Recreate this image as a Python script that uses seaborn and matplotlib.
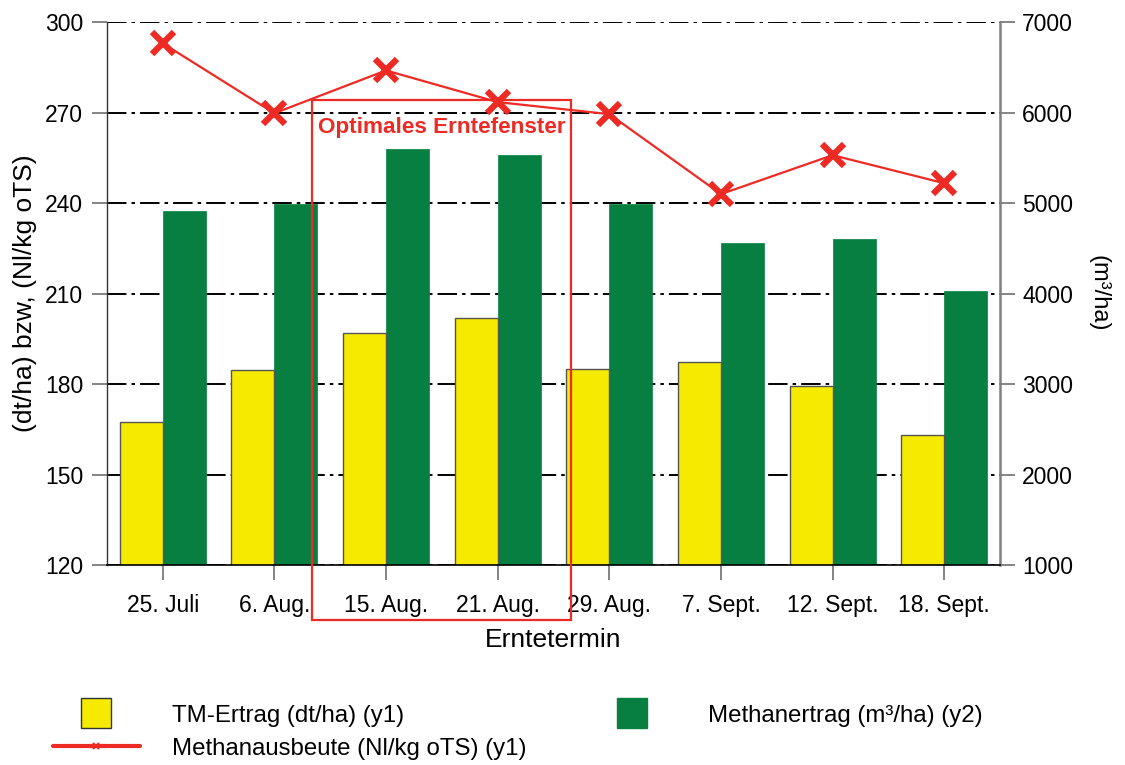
import matplotlib
matplotlib.use('Agg')
import matplotlib.pyplot as plt
import pandas as pd
import seaborn as sns
from matplotlib.lines import Line2D
from matplotlib.patches import Rectangle

# Daten
termine = ['25. Juli', '6. Aug.', '15. Aug.', '21. Aug.', '29. Aug.',
           '7. Sept.', '12. Sept.', '18. Sept.']
tm_ertrag = [167.4, 184.6, 196.9, 201.9, 185.0, 187.3, 179.3, 163.1]        # dt/ha (y1)
methanertrag = [4910, 4990, 5600, 5530, 4990, 4560, 4600, 4030]            # m³/ha (y2)
methanausbeute = [293.0, 269.8, 284.0, 273.5, 269.5, 243.0, 255.9, 246.6]  # Nl/kg oTS (y1)

y1_ticks = [120, 150, 180, 210, 240, 270, 300]
y2_ticks = [1000, 2000, 3000, 4000, 5000, 6000, 7000]

GELB = '#F5EA00'
GRUEN = '#067F40'
ROT = '#EE2A24'

sns.set_style('white')
plt.rcParams['font.family'] = ['Liberation Sans', 'DejaVu Sans']
plt.rcParams['text.color'] = 'black'
plt.rcParams['axes.labelcolor'] = 'black'
plt.rcParams['xtick.color'] = 'black'
plt.rcParams['ytick.color'] = 'black'

df = pd.DataFrame({
    'termin': termine * 2,
    'serie': ['TM'] * len(termine) + ['Methan'] * len(termine),
    'wert': tm_ertrag + methanertrag,
})
hue_order = ['TM', 'Methan']

fig = plt.figure(figsize=(11.25, 7.65), dpi=100)
ax2 = fig.add_axes([0.095, 0.2614, 0.794, 0.7096])
ax = ax2.twinx()   # twinx blendet die x-Achse von ax aus -> Beschriftung auf ax2
ax.set_zorder(ax2.get_zorder() + 1)
ax.patch.set_visible(False)

# Methanertrag auf der rechten Achse (hinten)
sns.barplot(data=df[df['serie'] == 'Methan'], x='termin', y='wert', hue='serie',
            hue_order=hue_order, order=termine, palette=[GELB, GRUEN],
            width=0.77, dodge=True, errorbar=None, saturation=1, legend=False,
            edgecolor=GRUEN, linewidth=0.5, ax=ax2)

# TM-Ertrag auf der linken Achse
sns.barplot(data=df[df['serie'] == 'TM'], x='termin', y='wert', hue='serie',
            hue_order=hue_order, order=termine, palette=[GELB, GRUEN],
            width=0.77, dodge=True, errorbar=None, saturation=1, legend=False,
            edgecolor='#555555', linewidth=1.0, ax=ax)

sns.lineplot(x=range(len(termine)), y=methanausbeute, color=ROT, linewidth=1.6,
             marker='x', markersize=16, markeredgewidth=4.5, markeredgecolor=ROT,
             ax=ax)

# linke Skala liegt auf ax, rechte auf ax2
ax.yaxis.tick_left()
ax.yaxis.set_label_position('left')
ax2.yaxis.tick_right()
ax2.yaxis.set_label_position('right')

ax.set_ylim(120, 300)
ax.set_yticks(y1_ticks)
ax2.set_ylim(1000, 7000)
ax2.set_yticks(y2_ticks)
ax2.set_xlim(-0.5, len(termine) - 0.5)
ax2.set_xticks(range(len(termine)))
ax2.set_xticklabels(termine)

ax2.grid(axis='y', color='black', linewidth=1.4, linestyle=(0, (10, 2.6, 1.8, 2.6)))
ax2.grid(axis='x', visible=False)
ax2.set_axisbelow(True)

for a in (ax, ax2):
    for s in a.spines.values():
        s.set_visible(False)
ax.spines['left'].set_visible(True)
ax.spines['left'].set_color('#333333')
ax.spines['left'].set_linewidth(1.0)
ax.spines['bottom'].set_visible(True)
ax.spines['bottom'].set_color('black')
ax.spines['bottom'].set_linewidth(1.2)
ax2.spines['right'].set_visible(True)
ax2.spines['right'].set_color('#808080')
ax2.spines['right'].set_linewidth(1.8)

ax.tick_params(axis='y', left=True, right=False, length=11, width=1.2, color='#707070',
               labelsize=16.5, pad=6)
ax2.tick_params(axis='y', right=True, left=False, length=11, width=1.2, color='#707070',
                labelsize=16.5, pad=5)
ax2.tick_params(axis='x', bottom=True, labelbottom=True, length=11, width=1.2,
                color='#707070', labelsize=16.5, pad=9.5)

ax2.set_xlabel('Erntetermin', fontsize=19, labelpad=8)
ax.set_ylabel('(dt/ha) bzw, (Nl/kg oTS)', fontsize=19, labelpad=6)
ax2.set_ylabel('(m³/ha)', fontsize=17, rotation=270, labelpad=26)

# Optimales Erntefenster
fenster_start, fenster_ende = 1.34, 3.66
ax.add_patch(Rectangle((fenster_start, 101.8), fenster_ende - fenster_start, 172.3,
                       fill=False, edgecolor=ROT, linewidth=1.6, clip_on=False, zorder=5))
ax.text(fenster_start + 0.05, 265, 'Optimales Erntefenster', color=ROT,
        fontsize=16.2, fontweight='bold', va='center', ha='left', zorder=6)

# Legende
handles = [
    Line2D([], [], marker='s', linestyle='none', markersize=22,
           markerfacecolor=GELB, markeredgecolor='#333333', markeredgewidth=1),
    Line2D([], [], color=ROT, linewidth=3, marker='x', markersize=5,
           markeredgewidth=1.5),
    Line2D([], [], marker='s', linestyle='none', markersize=22,
           markerfacecolor=GRUEN, markeredgecolor=GRUEN),
]
labels = ['TM-Ertrag (dt/ha) (y1)', 'Methanausbeute (Nl/kg oTS) (y1)',
          'Methanertrag (m³/ha) (y2)']
fig.legend(handles, labels, ncol=2, loc='upper left', bbox_to_anchor=(0.028, 0.107),
           bbox_transform=fig.transFigure, frameon=False, fontsize=17.3,
           handlelength=3.6, handletextpad=1.35, columnspacing=2.6, labelspacing=0.45,
           numpoints=1)

fig.savefig('out.png', dpi=100)
